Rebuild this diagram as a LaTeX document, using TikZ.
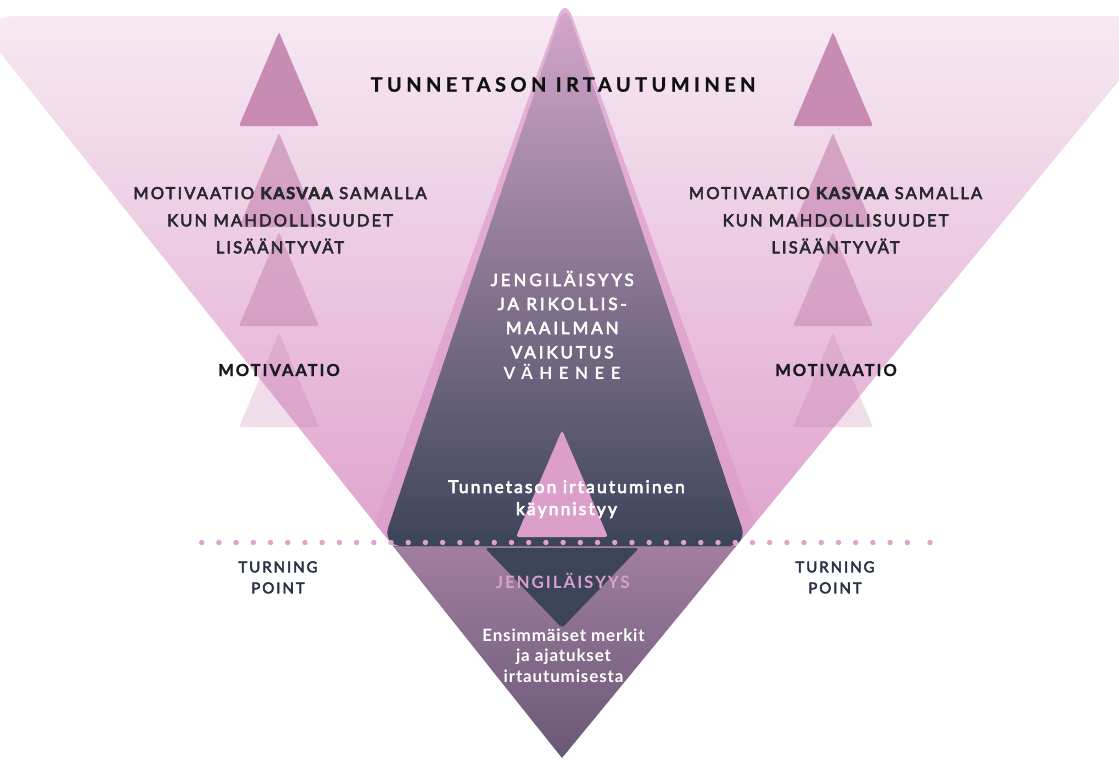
\documentclass[tikz,border=0pt]{standalone}
\usepackage{fontspec}
\setmainfont{Lato}
\newfontfamily\fTitle[LetterSpace=22,FakeBold=0.8]{Lato}
\newfontfamily\fSide[LetterSpace=13,FakeBold=3.5]{Lato}
\newfontfamily\fSideK[LetterSpace=9,FakeBold=3.5]{Lato}
\newfontfamily\fSideB[LetterSpace=12,FakeBold=1.2]{Lato}
\newfontfamily\fMid[LetterSpace=17,FakeBold=3.5]{Lato}
\newfontfamily\fVah[LetterSpace=38]{Lato}
\newfontfamily\fLow[LetterSpace=12,FakeBold=3.5]{Lato}
\newfontfamily\fJen[LetterSpace=11]{Lato}
\newfontfamily\fEns[LetterSpace=5]{Lato}
\newfontfamily\fTP[LetterSpace=13,FakeBold=3.5]{Lato}
\definecolor{sidegray}{RGB}{40,40,46}
\definecolor{tpnavy}{RGB}{44,51,72}
\definecolor{dotpink}{RGB}{224,163,206}
\definecolor{tripink}{RGB}{192,122,168}
\definecolor{midpink}{RGB}{220,159,202}
\definecolor{darknavy}{RGB}{59,68,88}
\definecolor{jpink}{RGB}{217,160,207}
\definecolor{bigtop}{RGB}{246,233,242}
\definecolor{bigbot}{RGB}{215,135,190}
\definecolor{bandtop}{RGB}{228,180,216}
\definecolor{bandbot}{RGB}{221,158,203}
\definecolor{darktop}{RGB}{214,168,205}
\definecolor{darkbot}{RGB}{60,68,89}
\definecolor{purtop}{RGB}{162,126,160}
\definecolor{purbot}{RGB}{104,88,118}
\definecolor{seam}{RGB}{130,115,140}
\definecolor{titleblack}{RGB}{17,17,20}
\definecolor{motiblack}{RGB}{26,26,30}
\tikzset{
  txt/.style={anchor=base, inner sep=0pt},
  titletxt/.style={txt, font=\fTitle\bfseries\fontsize{20}{24}\selectfont, text=titleblack},
  sidetxt/.style={txt, font=\fSide\fontsize{16.5}{20}\selectfont, text=sidegray},
  motitxt/.style={txt, font=\fSideB\bfseries\fontsize{16.5}{20}\selectfont, text=motiblack},
  midtxt/.style={txt, font=\fMid\fontsize{17}{20}\selectfont, text=white},
  vahtxt/.style={txt, font=\fVah\bfseries\fontsize{17}{20}\selectfont, text=white},
  lowtxt/.style={txt, font=\fLow\fontsize{17.5}{20}\selectfont, text=white},
  jentxt/.style={txt, font=\fJen\bfseries\fontsize{17}{20}\selectfont, text=jpink},
  enstxt/.style={txt, font=\fEns\bfseries\fontsize{17}{20}\selectfont, text=white},
  tptxt/.style={txt, font=\fTP\fontsize{15}{18}\selectfont, text=tpnavy},
  smalltri/.style={fill=tripink, rounded corners=2pt}
}
\begin{document}
\begin{tikzpicture}[x=1pt,y=-1pt]
\useasboundingbox (0,0) rectangle (1119,758);
% big inverted triangle
\shade[top color=bigtop, bottom color=bigbot, rounded corners=45pt] (-29,16) -- (1172,16) -- (562,758) -- cycle;
% side triangles
\foreach \cx in {279,833} {
  \foreach \ty/\op in {32/0.83,133/0.55,232/0.45,333/0.25} {
    \fill[smalltri, opacity=\op] (\cx,\ty) -- (\cx+40,\ty+94) -- (\cx-40,\ty+94) -- cycle;
  }
}
% central outer band
\begin{scope}
\clip (-50,-10) -- (1193,-10) -- (562,758) -- cycle;
\shade[top color=bandtop, bottom color=bandbot, rounded corners=20pt] (565,-3) -- (763,546) -- (367,546) -- cycle;
\end{scope}
% inner dark triangle
\shade[top color=darktop, bottom color=darkbot, rounded corners=20pt] (565,2) -- (748,546) -- (382,546) -- cycle;
% lower purple triangle
\shade[top color=purtop, bottom color=purbot] (393,546) -- (736,546) -- (562,758) -- cycle;
\draw[seam, line width=0.8pt] (393,546.3) -- (736,546.3);
% central small pink triangle
\fill[midpink, rounded corners=3pt] (562,430) -- (608,537) -- (516,537) -- cycle;
% small dark inverted triangle
\fill[darknavy, rounded corners=3pt] (485,548) -- (639,548) -- (562,628) -- cycle;
% dotted turning line
\foreach \i in {0,...,41} { \fill[dotpink] (201.7+17.21*\i,542.5) circle (2.7pt); }
\fill[dotpink] (930,542.5) circle (2.7pt);
% texts
\node[titletxt] (title) at (563,91.7) {TUNNETASON IRTAUTUMINEN};
\node[sidetxt] (l1) at (280,199) {MOTIVAATIO {\fSideK\bfseries KASVAA} SAMALLA};
\node[sidetxt] (l2) at (280,226.3) {KUN MAHDOLLISUUDET};
\node[sidetxt] (l3) at (280,253.3) {LISÄÄNTYVÄT};
\node[sidetxt] (r1) at (835.5,199) {MOTIVAATIO {\fSideK\bfseries KASVAA} SAMALLA};
\node[sidetxt] (r2) at (835.5,226.3) {KUN MAHDOLLISUUDET};
\node[sidetxt] (r3) at (835.5,253.3) {LISÄÄNTYVÄT};
\node[motitxt] (lm) at (279,376) {MOTIVAATIO};
\node[motitxt] (rm) at (836,376) {MOTIVAATIO};
\node[midtxt] (c1) at (562.2,286) {JENGILÄISYYS};
\node[midtxt] (c2) at (562.2,310) {JA RIKOLLIS-};
\node[midtxt] (c3) at (562.2,334) {MAAILMAN};
\node[midtxt] (c4) at (562.2,358.3) {VAIKUTUS};
\node[vahtxt] (c5) at (562.2,379.3) {VÄHENEE};
\node[lowtxt] (t1) at (566.5,493) {Tunnetason irtautuminen};
\node[lowtxt] (t2) at (566.5,515) {käynnistyy};
\node[tptxt] (tpl1) at (278,572.3) {TURNING};
\node[tptxt] (tpl2) at (278,593.3) {POINT};
\node[tptxt] (tpr1) at (835,572.3) {TURNING};
\node[tptxt] (tpr2) at (835,593.3) {POINT};
\node[jentxt] (jen) at (562.8,588.3) {JENGILÄISYYS};
\node[enstxt] (e1) at (563.5,641) {Ensimmäiset merkit};
\node[enstxt] (e2) at (563.5,661.7) {ja ajatukset};
\node[enstxt] (e3) at (563.5,682.3) {irtautumisesta};
\end{tikzpicture}
\end{document}
